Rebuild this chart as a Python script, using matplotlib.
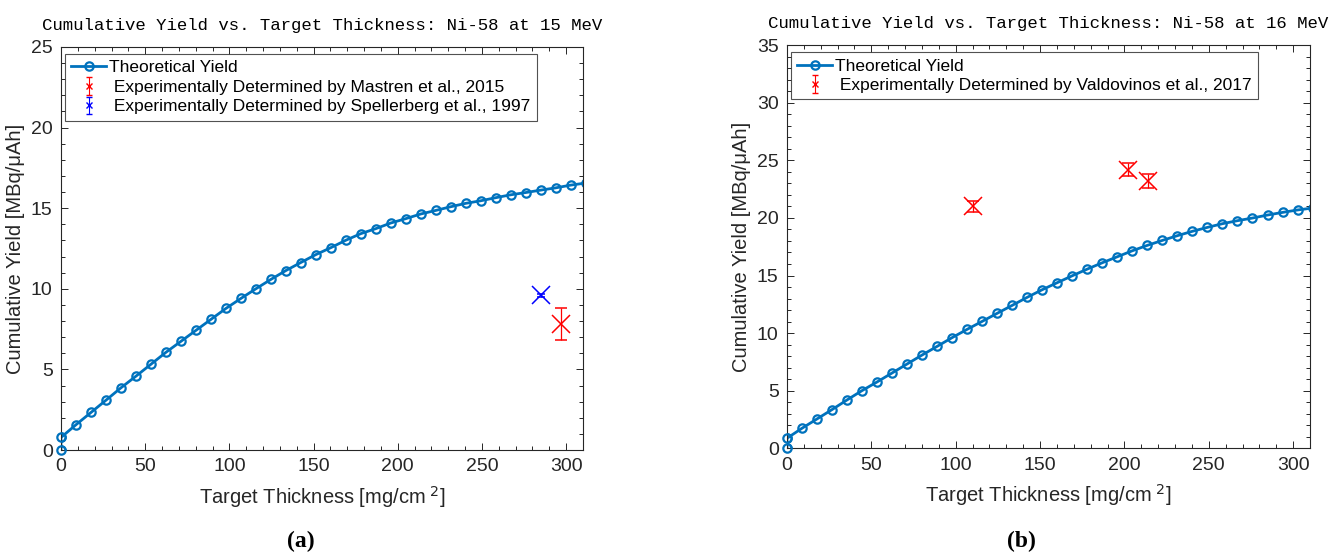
import numpy as np
import matplotlib
matplotlib.use('Agg')
from matplotlib import pyplot as plt
from matplotlib.ticker import MultipleLocator

# theoretical yield, 15 MeV (panel a)
thick_a = [0, 0, 8.9, 17.8, 26.7, 35.6, 44.5, 53.4, 62.3, 71.2, 80.1, 89.0, 97.9,
           106.8, 115.7, 124.6, 133.5, 142.4, 151.3, 160.2, 169.1, 178.0, 186.9,
           195.8, 204.7, 213.6, 222.5, 231.4, 240.3, 249.2, 258.1, 267.0, 275.9,
           284.8, 293.7, 302.6, 311.5]
yield_a = [0, 0.78, 1.57, 2.33, 3.09, 3.86, 4.58, 5.32, 6.06, 6.74, 7.42, 8.10, 8.78,
           9.40, 10.00, 10.58, 11.13, 11.63, 12.12, 12.55, 13.01, 13.42, 13.73,
           14.08, 14.35, 14.64, 14.86, 15.09, 15.30, 15.46, 15.65, 15.83, 15.97,
           16.12, 16.26, 16.43, 16.56]

# theoretical yield, 16 MeV (panel b)
thick_b = thick_a
yield_b = [0, 0.87, 1.74, 2.55, 3.36, 4.20, 5.01, 5.76, 6.54, 7.32, 8.10, 8.85, 9.61,
           10.33, 11.02, 11.72, 12.41, 13.11, 13.77, 14.38, 14.98, 15.56, 16.11,
           16.63, 17.15, 17.62, 18.05, 18.46, 18.84, 19.18, 19.50, 19.76, 19.99,
           20.25, 20.48, 20.69, 20.86]

# experimental points
mastren_x, mastren_y, mastren_err = [297], [7.8], [1.0]
spell_x, spell_y, spell_err = [285], [9.6], [0.1]
valdo_x = [110, 202, 214]
valdo_y = [21.0, 24.2, 23.2]
valdo_err = [0.5, 0.6, 0.6]

plt.rcParams['font.family'] = ['Liberation Sans', 'DejaVu Sans']
grey = '#262626'
blue_line = '#0072BD'

fig = plt.figure(figsize=(13.35, 5.58), dpi=100)
ax1 = fig.add_axes([0.0457, 0.1935, 0.391, 0.7223])
ax2 = fig.add_axes([0.5895, 0.1966, 0.3918, 0.7225])


def style_axes(ax, ymax):
    ax.set_xlim(0, 310)
    ax.set_ylim(0, ymax)
    ax.xaxis.set_major_locator(MultipleLocator(50))
    ax.xaxis.set_minor_locator(MultipleLocator(10))
    ax.yaxis.set_major_locator(MultipleLocator(5))
    ax.yaxis.set_minor_locator(MultipleLocator(1))
    ax.tick_params(which='both', direction='in', top=True, right=True,
                   color=grey, labelcolor=grey, labelsize=14, width=0.7)
    ax.tick_params(which='major', length=5, pad=6)
    ax.tick_params(which='minor', length=3)
    for s in ax.spines.values():
        s.set_color(grey)
        s.set_linewidth(0.8)
    ax.set_xlabel('Target Thickness [mg/cm$^{\\ 2}$]', fontsize=14.5, color=grey, labelpad=6)
    ax.set_ylabel('Cumulative Yield [MBq/\u03bcAh]', fontsize=14.5, color=grey, labelpad=4)


def proxy(ax, color, label):
    return ax.errorbar([np.nan], [np.nan], yerr=[1], fmt='x', color=color, ms=4,
                       mew=1, elinewidth=0.8, capsize=2.5, label=label)


def theory(ax, x, y):
    line, = ax.plot(x, y, '-o', color=blue_line, lw=2, ms=6, mew=1.6,
                    mfc='none', label='Theoretical Yield')
    # the first two markers sit on the axis, keep them whole
    ax.plot(x[:2], y[:2], 'o', color=blue_line, ms=6, mew=1.6, mfc='none',
            clip_on=False, zorder=3)
    return line


# panel a
h1 = theory(ax1, thick_a, yield_a)
ax1.errorbar(mastren_x, mastren_y, yerr=mastren_err, fmt='x', color='red', ms=13,
             mew=1.1, elinewidth=0.9, capsize=4)
ax1.errorbar(spell_x, spell_y, yerr=spell_err, fmt='x', color='blue', ms=13,
             mew=1.1, elinewidth=0.9, capsize=3)
p1 = proxy(ax1, 'red', ' Experimentally Determined by Mastren et al., 2015')
p2 = proxy(ax1, 'blue', ' Experimentally Determined by Spellerberg et al., 1997')
style_axes(ax1, 25)
leg = ax1.legend([h1, p1, p2], [h1.get_label(), p1.get_label(), p2.get_label()],
                 loc='upper left', bbox_to_anchor=(0.008, 0.982), borderaxespad=0,
                 fontsize=12.5, frameon=True, fancybox=False, edgecolor=grey,
                 handlelength=2.0, handletextpad=0.2, labelspacing=0.25,
                 borderpad=0.35)
leg.get_frame().set_linewidth(0.8)
ax1.set_title('Cumulative Yield vs. Target Thickness: Ni-58 at 15 MeV',
              family='Liberation Mono', fontsize=12.5, color='black', pad=12)

# panel b
h2 = theory(ax2, thick_b, yield_b)
ax2.errorbar(valdo_x, valdo_y, yerr=valdo_err, fmt='x', color='red', ms=13,
             mew=1.1, elinewidth=0.9, capsize=4)
p3 = proxy(ax2, 'red', ' Experimentally Determined by Valdovinos et al., 2017')
style_axes(ax2, 35)
leg2 = ax2.legend([h2, p3], [h2.get_label(), p3.get_label()],
                  loc='upper left', bbox_to_anchor=(0.008, 0.982), borderaxespad=0,
                  fontsize=12.5, frameon=True, fancybox=False, edgecolor=grey,
                  handlelength=2.0, handletextpad=0.2, labelspacing=0.25,
                  borderpad=0.35)
leg2.get_frame().set_linewidth(0.8)
ax2.set_title('Cumulative Yield vs. Target Thickness: Ni-58 at 16 MeV',
              family='Liberation Mono', fontsize=12.5, color='black', pad=12)

fig.text(0.225, 0.02, '(a)', family='Liberation Serif', fontsize=17,
         fontweight='bold', ha='center')
fig.text(0.765, 0.02, '(b)', family='Liberation Serif', fontsize=17,
         fontweight='bold', ha='center')

fig.savefig('out.png', dpi=100)
